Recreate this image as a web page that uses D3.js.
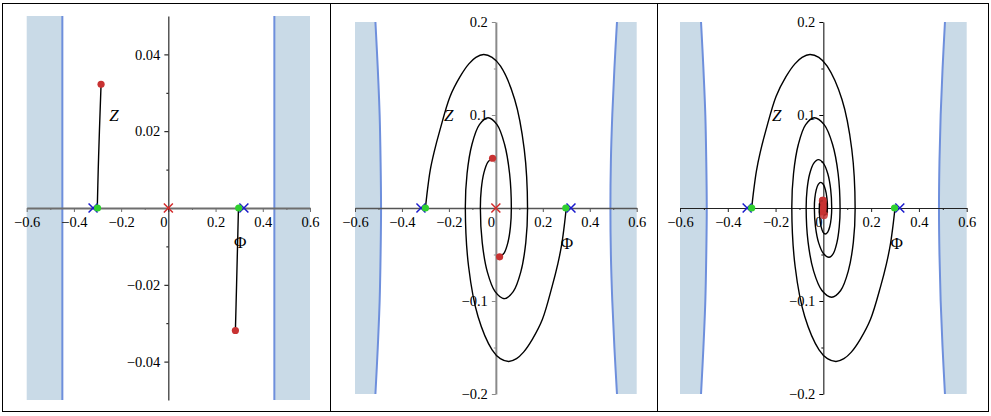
<!DOCTYPE html>
<html><head><meta charset="utf-8">
<script src="https://cdn.jsdelivr.net/npm/d3@7"></script>
<style>body{margin:0;background:#fff} svg{display:block}</style>
</head><body><svg id="c" width="991" height="416"></svg>
<script>
// ---------------- data ----------------
const xTickValues = [-0.6, -0.4, -0.2, 0, 0.2, 0.4, 0.6];
const xMinorValues = [-0.5, -0.3, -0.1, 0.1, 0.3, 0.5];
const yTicksP1 = [-0.04, -0.02, 0.02, 0.04];
const yMinorP1 = [-0.03, -0.01, 0.01, 0.03];
const yTicksP23 = [-0.2, -0.1, 0.1, 0.2];
const yMinorP23 = [-0.15, -0.05, 0.05, 0.15];

// boundary of the shaded region: [Phi, Z]
const boundLeftP1 = [[-0.449, 0.05], [-0.449, -0.05]];
const boundRightP1 = [[0.449, 0.05], [0.449, -0.05]];
const boundLeftP2 = [[-0.513, 0.2], [-0.503, 0.15], [-0.495, 0.1], [-0.491, 0.05], [-0.489, 0], [-0.491, -0.05], [-0.495, -0.1], [-0.503, -0.15], [-0.513, -0.2]];
const boundRightP2 = [[0.516, 0.2], [0.505, 0.15], [0.496, 0.1], [0.490, 0.05], [0.488, 0], [0.490, -0.05], [0.496, -0.1], [0.505, -0.15], [0.516, -0.2]];
const boundLeftP3 = [[-0.512, 0.2], [-0.502, 0.15], [-0.494, 0.1], [-0.490, 0.05], [-0.488, 0], [-0.490, -0.05], [-0.494, -0.1], [-0.502, -0.15], [-0.512, -0.2]];
const boundRightP3 = [[0.509, 0.2], [0.499, 0.15], [0.491, 0.1], [0.486, 0.05], [0.484, 0], [0.486, -0.05], [0.491, -0.1], [0.499, -0.15], [0.509, -0.2]];

// trajectories [Phi, Z]
const trajP1a = [[-0.301, 0], [-0.297, 0.010], [-0.292, 0.020], [-0.285, 0.0322]];
const trajP1b = [[0.297, 0], [0.293, -0.010], [0.289, -0.020], [0.284, -0.0319]];

const trajP2a = [[-0.300, 0], [-0.291, 0.020], [-0.280, 0.040], [-0.263, 0.060], [-0.238, 0.084], [-0.195, 0.120],
  [-0.153, 0.141], [-0.115, 0.155], [-0.085, 0.162], [-0.052, 0.165], [-0.016, 0.162], [0.020, 0.1525], [0.080, 0.117],
  [0.121, 0.063], [0.135, 0], [0.1275, -0.0373], [0.106, -0.069], [0.074, -0.090], [0.036, -0.0975], [-0.003, -0.090],
  [-0.036, -0.069], [-0.058, -0.0373], [-0.066, 0], [-0.062, 0.0205], [-0.051, 0.0378], [-0.034, 0.0494], [-0.014, 0.0535]];
const trajP2b = [[0.300, 0], [0.291, -0.020], [0.280, -0.040], [0.264, -0.060], [0.240, -0.084], [0.198, -0.120],
  [0.156, -0.141], [0.118, -0.155], [0.088, -0.162], [0.055, -0.165], [0.019, -0.162], [-0.016, -0.1525], [-0.076, -0.1167],
  [-0.116, -0.0632], [-0.130, 0], [-0.1226, 0.0371], [-0.1016, 0.0686], [-0.070, 0.0896], [-0.033, 0.097], [0.005, 0.0896],
  [0.037, 0.0686], [0.0585, 0.0371], [0.066, 0], [0.0622, -0.0201], [0.0514, -0.0371], [0.0351, -0.0485], [0.016, -0.0525]];

const trajP3a = [[-0.300, 0], [-0.291, 0.020], [-0.280, 0.040], [-0.264, 0.060], [-0.240, 0.084], [-0.198, 0.120],
  [-0.157, 0.141], [-0.119, 0.155], [-0.089, 0.162], [-0.056, 0.165], [-0.019, 0.162], [0.016, 0.1525], [0.078, 0.1167],
  [0.119, 0.0632], [0.133, 0], [0.1256, -0.0367], [0.1043, -0.0679], [0.0725, -0.0887], [0.035, -0.096], [-0.006, -0.0887],
  [-0.0407, -0.0679], [-0.0639, -0.0367], [-0.072, 0], [-0.0681, 0.0199], [-0.0571, 0.0368], [-0.0405, 0.048], [-0.021, 0.052],
  [0.0004, 0.048], [0.0186, 0.0368], [0.0307, 0.0199], [0.035, 0], [0.0329, -0.0107], [0.0271, -0.0198], [0.0183, -0.0259],
  [0.008, -0.028], [-0.0016, -0.0259], [-0.0097, -0.0198], [-0.0151, -0.0107], [-0.017, 0], [-0.0129, 0.0071], [-0.002, 0.0078]];
const trajP3b = [[0.300, 0], [0.291, -0.020], [0.280, -0.040], [0.264, -0.060], [0.240, -0.084], [0.197, -0.120],
  [0.155, -0.141], [0.117, -0.155], [0.086, -0.162], [0.053, -0.165], [0.017, -0.162], [-0.018, -0.1525], [-0.078, -0.1167],
  [-0.118, -0.0632], [-0.132, 0], [-0.1248, 0.0371], [-0.1045, 0.0686], [-0.074, 0.0896], [-0.038, 0.097], [0.0034, 0.0896],
  [0.0384, 0.0686], [0.0618, 0.0371], [0.070, 0], [0.0665, -0.0203], [0.0565, -0.0375], [0.0416, -0.049], [0.024, -0.053],
  [0.0004, -0.049], [-0.0196, -0.0375], [-0.0329, -0.0203], [-0.0376, 0], [-0.0356, 0.0106], [-0.0298, 0.0195], [-0.0212, 0.0255],
  [-0.011, 0.0276], [-0.0003, 0.0255], [0.0088, 0.0195], [0.0149, 0.0106], [0.017, 0], [0.0129, -0.0064], [0.002, -0.0078]];

// markers [Phi, Z]
const blueCrosses = [[-0.319, 0], [0.320, 0]];
const redCrossOrigin = [[0, 0]];
const greenStarts = [[-0.300, 0], [0.298, 0]];

// ---------------- drawing ----------------
const svg = d3.select("#c");
svg.append("rect").attr("width", 991).attr("height", 416).attr("fill", "#fff");

const panels = [
  {x0: 26.7, x1: 310, y0: 16, y1: 400, zMin: -0.05, zMax: 0.05,
   yTicks: yTicksP1, yMinor: yMinorP1, fmt: d3.format(".2f"),
   bL: boundLeftP1, bR: boundRightP1, trajs: [trajP1a, trajP1b], dotR: 3.6,
   xAxisColor: "#6e6e6e", xAxisW: 2, yAxisColor: "#000", yAxisW: 1,
   zLabel: [-0.23, 0.0242], phiLabel: [0.304, -0.0088]},
  {x0: 355, x1: 636.7, y0: 22, y1: 394, zMin: -0.2, zMax: 0.2,
   yTicks: yTicksP23, yMinor: yMinorP23, fmt: d3.format(".1f"),
   bL: boundLeftP2, bR: boundRightP2, trajs: [trajP2a, trajP2b], dotR: 3.6,
   xAxisColor: "#555", xAxisW: 1.5, yAxisColor: "#8a8a8a", yAxisW: 2,
   zLabel: [-0.201, 0.0995], phiLabel: [0.303, -0.038]},
  {x0: 680, x1: 966.7, y0: 22, y1: 394, zMin: -0.2, zMax: 0.2,
   yTicks: yTicksP23, yMinor: yMinorP23, fmt: d3.format(".1f"),
   bL: boundLeftP3, bR: boundRightP3, trajs: [trajP3a, trajP3b], dotR: 4,
   xAxisColor: "#222", xAxisW: 1.2, yAxisColor: "#000", yAxisW: 1,
   zLabel: [-0.195, 0.0995], phiLabel: [0.307, -0.038]}
];

const tickFont = "Liberation Serif";
const tickSize = 14.5;

panels.forEach((p, i) => {
  const x = d3.scaleLinear().domain([-0.6, 0.6]).range([p.x0, p.x1]);
  const y = d3.scaleLinear().domain([p.zMin, p.zMax]).range([p.y1, p.y0]);
  const g = svg.append("g");
  const line = d3.line().x(d => x(d[0])).y(d => y(d[1]));

  // shaded regions
  const leftPoly = [[-0.6, p.bL[0][1]], ...p.bL, [-0.6, p.bL[p.bL.length - 1][1]]];
  const rightPoly = [[0.6, p.bR[0][1]], ...p.bR, [0.6, p.bR[p.bR.length - 1][1]]];
  [leftPoly, rightPoly].forEach(poly => {
    g.append("path").attr("d", line.curve(d3.curveLinear)(poly) + "Z").attr("fill", "#c9dae7").attr("stroke", "none");
  });
  [p.bL, p.bR].forEach(b => {
    g.append("path").attr("d", line.curve(d3.curveCatmullRom)(b)).attr("fill", "none")
      .attr("stroke", "#6e8fdc").attr("stroke-width", 2);
  });

  // axes
  const xa = g.append("g").attr("transform", `translate(0,${y(0)})`);
  xa.call(d3.axisBottom(x).tickValues(xTickValues).tickSize(4).tickSizeOuter(0).tickPadding(5)
      .tickFormat(d => d === 0 ? "0" : d3.format(".1f")(d)));
  xa.select(".domain").attr("stroke", p.xAxisColor).attr("stroke-width", p.xAxisW);
  xa.selectAll(".tick line").attr("stroke", p.xAxisColor);
  xa.selectAll(".tick text").attr("font-family", tickFont).attr("font-size", tickSize).attr("fill", "#000")
    .attr("x", d => d === 0 ? -5 : 0);
  const xm = g.append("g").attr("transform", `translate(0,${y(0)})`);
  xm.call(d3.axisBottom(x).tickValues(xMinorValues).tickSize(2).tickSizeOuter(0).tickFormat(""));
  xm.select(".domain").remove();
  xm.selectAll(".tick line").attr("stroke", p.xAxisColor);

  const ya = g.append("g").attr("transform", `translate(${x(0)},0)`);
  ya.call(d3.axisLeft(y).tickValues(p.yTicks).tickSize(4).tickSizeOuter(0).tickPadding(4).tickFormat(p.fmt));
  ya.select(".domain").attr("stroke", p.yAxisColor).attr("stroke-width", p.yAxisW);
  ya.selectAll(".tick line").attr("stroke", p.yAxisColor);
  ya.selectAll(".tick text").attr("font-family", tickFont).attr("font-size", tickSize).attr("fill", "#000");
  const ym = g.append("g").attr("transform", `translate(${x(0)},0)`);
  ym.call(d3.axisLeft(y).tickValues(p.yMinor).tickSize(2).tickSizeOuter(0).tickFormat(""));
  ym.select(".domain").remove();
  ym.selectAll(".tick line").attr("stroke", p.yAxisColor);

  // crosses
  const cross = (pt, col, s) => {
    const cx = x(pt[0]), cy = y(pt[1]);
    g.append("path").attr("d", `M${cx - s},${cy - s}L${cx + s},${cy + s}M${cx - s},${cy + s}L${cx + s},${cy - s}`)
      .attr("stroke", col).attr("stroke-width", 1.5).attr("fill", "none");
  };
  redCrossOrigin.forEach(pt => cross(pt, "#d42a2a", 4.5));

  // red end points (panel 3: end region drawn under the innermost turns)
  const ends = p.trajs.map(t => t[t.length - 1]);
  if (i === 2) {
    g.append("path").attr("d", line.curve(d3.curveCatmullRomClosed)(ends.concat([[0, 0]]).map(d => d)))
      .attr("fill", "#c83232").attr("stroke", "#c83232").attr("stroke-width", 8).attr("stroke-linejoin", "round");
  }

  // trajectories
  p.trajs.forEach(t => {
    g.append("path").attr("d", line.curve(d3.curveCatmullRom.alpha(0.5))(t)).attr("fill", "none")
      .attr("stroke", "#000").attr("stroke-width", 1.4).attr("stroke-linejoin", "round");
  });

  blueCrosses.forEach(pt => cross(pt, "#1a1acc", 4.5));

  // start (green) and end (red) points
  greenStarts.forEach(pt => g.append("circle").attr("cx", x(pt[0])).attr("cy", y(pt[1])).attr("r", 3.6).attr("fill", "#2fd02f"));
  ends.forEach(e => {
    g.append("circle").attr("cx", x(e[0])).attr("cy", y(e[1])).attr("r", p.dotR).attr("fill", "#c83232")
      .attr("fill-opacity", i === 2 ? 0.85 : 1);
  });

  // labels
  g.append("text").attr("x", x(p.zLabel[0])).attr("y", y(p.zLabel[1]) + 6).attr("text-anchor", "middle")
    .attr("font-family", "Liberation Serif").attr("font-style", "italic").attr("font-size", 17).text("Z");
  g.append("text").attr("x", x(p.phiLabel[0])).attr("y", y(p.phiLabel[1]) + 6).attr("text-anchor", "middle")
    .attr("font-family", "Liberation Serif").attr("font-size", 17).text("Φ");
});

// frame
svg.append("rect").attr("x", 2.5).attr("y", 3.5).attr("width", 986).attr("height", 408)
  .attr("fill", "none").attr("stroke", "#000").attr("stroke-width", 1);
[330.5, 657.5].forEach(xx => svg.append("line").attr("x1", xx).attr("x2", xx).attr("y1", 3.5).attr("y2", 411.5)
  .attr("stroke", "#000").attr("stroke-width", 1));
</script></body></html>
